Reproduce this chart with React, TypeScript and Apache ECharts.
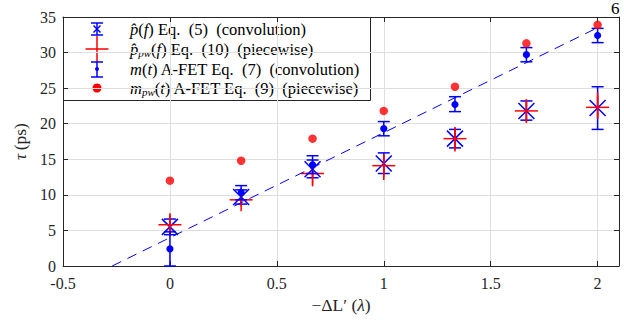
import React, { useEffect, useRef } from 'react';
import * as echarts from 'echarts';

// x positions (−ΔL' in λ)
const xValues = [0, 0.333, 0.667, 1, 1.333, 1.667, 2];

// p̂(f) Eq. (5) (convolution): value, lower, upper
const pHat = [5.5, 9.7, 13.6, 14.4, 17.9, 21.8, 22.2];
const pHatLo = [4.4, 8.7, 12.4, 13.0, 16.6, 20.5, 19.2];
const pHatHi = [6.6, 10.7, 14.9, 15.9, 19.2, 23.2, 25.2];

// p̂_pw(f) Eq. (10) (piecewise)
const pPw = [5.8, 9.3, 13.0, 14.1, 17.9, 21.8, 22.3];
const pPwLo = [4.4, 8.4, 11.2, 12.1, 16.1, 20.1, 20.8];
const pPwHi = [7.2, 10.3, 14.5, 15.6, 19.5, 23.4, 24.4];

// m(t) A-FET Eq. (7) (convolution)
const mT = [2.4, 10.3, 14.2, 19.3, 22.7, 29.7, 32.4];
const mTLo = [0, 9.3, 13.0, 18.3, 21.7, 28.7, 31.4];
const mTHi = [4.8, 11.3, 15.5, 20.3, 23.8, 30.7, 33.4];

// m_pw(t) A-FET Eq. (9) (piecewise)
const mPw = [12.0, 14.8, 17.9, 21.8, 25.2, 31.3, 33.9];

// dashed fit line end points
const fitX = [-0.27, 2];
const fitY = [0, 33.5];

const FONT = 'Liberation Serif';
const BLUE = '#0000ff';
const RED = '#ff0000';
const AX = '#262626';

type Kind = 'x' | 'plus' | 'dot';

const makeRender = (kind: Kind) => (_params: any, api: any) => {
  const xv = api.value(0);
  const c = api.coord([xv, api.value(1)]);
  const lo = api.coord([xv, api.value(2)]);
  const hi = api.coord([xv, api.value(3)]);
  const color = kind === 'plus' ? RED : BLUE;
  const st = { stroke: color, lineWidth: 1.5, fill: null };
  const cx = c[0];
  const children: any[] = [
    { type: 'line', shape: { x1: cx, y1: lo[1], x2: cx, y2: hi[1] }, style: st },
  ];
  if (kind !== 'plus') {
    const w = 6;
    children.push({ type: 'line', shape: { x1: cx - w, y1: lo[1], x2: cx + w, y2: lo[1] }, style: st });
    children.push({ type: 'line', shape: { x1: cx - w, y1: hi[1], x2: cx + w, y2: hi[1] }, style: st });
  }
  if (kind === 'x') {
    const s = 8;
    children.push({ type: 'line', shape: { x1: cx - s, y1: c[1] - s, x2: cx + s, y2: c[1] + s }, style: st });
    children.push({ type: 'line', shape: { x1: cx - s, y1: c[1] + s, x2: cx + s, y2: c[1] - s }, style: st });
  } else if (kind === 'plus') {
    const s = 11.5;
    children.push({ type: 'line', shape: { x1: cx - s, y1: c[1], x2: cx + s, y2: c[1] }, style: st });
    children.push({ type: 'line', shape: { x1: cx, y1: c[1] - s, x2: cx, y2: c[1] + s }, style: st });
  } else {
    children.push({ type: 'circle', shape: { cx, cy: c[1], r: 3.6 }, style: { fill: BLUE } });
  }
  return { type: 'group', children };
};

const rich = {
  n: { fontFamily: FONT, fontSize: 16.5, lineHeight: 19, color: '#000' },
  i: { fontFamily: FONT, fontSize: 16.5, lineHeight: 19, fontStyle: 'italic', color: '#000' },
  s: { fontFamily: FONT, fontSize: 11, lineHeight: 11, fontStyle: 'italic', color: '#000', verticalAlign: 'bottom' },
};

const nameRich = {
  n: { fontFamily: FONT, fontSize: 17.5, lineHeight: 20, color: AX },
  i: { fontFamily: FONT, fontSize: 17.5, lineHeight: 20, fontStyle: 'italic', color: AX },
};

const legendTexts = [
  '{i|p\u0302}{n|(}{i|f}{n|) Eq.  (5)  (convolution)}',
  '{i|p\u0302}{s|pw}{n|(}{i|f}{n|) Eq.  (10)  (piecewise)}',
  '{i|m}{n|(}{i|t}{n|) A-FET Eq.  (7)  (convolution)}',
  '{i|m}{s|pw}{n|(}{i|t}{n|) A-FET Eq.  (9)  (piecewise)}',
];

export default function App() {
  const ref = useRef<HTMLDivElement>(null);
  useEffect(() => {
    document.body.style.margin = '0';
    const chart = echarts.init(ref.current!, null, { renderer: 'svg' });
    const mk = (v: number[], lo: number[], hi: number[]) => xValues.map((x, i) => [x, v[i], lo[i], hi[i]]);
    const rowsY = [29, 49, 69, 88];
    const ix = 97;
    const lst = (c: string) => ({ stroke: c, lineWidth: 1.5, fill: null });
    const legendChildren: any[] = [
      { type: 'rect', shape: { x: 63.5, y: 17.5, width: 307, height: 83 }, style: { fill: '#fff', stroke: AX, lineWidth: 1 } },
      // row 1
      { type: 'line', shape: { x1: ix, y1: 23, x2: ix, y2: 35 }, style: lst(BLUE) },
      { type: 'line', shape: { x1: ix - 6, y1: 23, x2: ix + 6, y2: 23 }, style: lst(BLUE) },
      { type: 'line', shape: { x1: ix - 6, y1: 35, x2: ix + 6, y2: 35 }, style: lst(BLUE) },
      { type: 'line', shape: { x1: ix - 3.5, y1: 25.5, x2: ix + 3.5, y2: 32.5 }, style: lst(BLUE) },
      { type: 'line', shape: { x1: ix - 3.5, y1: 32.5, x2: ix + 3.5, y2: 25.5 }, style: lst(BLUE) },
      // row 2
      { type: 'line', shape: { x1: ix - 11.5, y1: 49, x2: ix + 11.5, y2: 49 }, style: lst(RED) },
      { type: 'line', shape: { x1: ix, y1: 36, x2: ix, y2: 62 }, style: lst(RED) },
      // row 3
      { type: 'line', shape: { x1: ix, y1: 62, x2: ix, y2: 77 }, style: lst(BLUE) },
      { type: 'line', shape: { x1: ix - 6, y1: 62, x2: ix + 6, y2: 62 }, style: lst(BLUE) },
      { type: 'line', shape: { x1: ix - 6, y1: 77, x2: ix + 6, y2: 77 }, style: lst(BLUE) },
      { type: 'circle', shape: { cx: ix, cy: 69, r: 2 }, style: { fill: BLUE } },
      // row 4
      { type: 'circle', shape: { cx: ix, cy: 88, r: 4.5 }, style: { fill: RED } },
    ];
    legendTexts.forEach((t, k) => {
      legendChildren.push({
        type: 'text',
        x: 130,
        y: rowsY[k],
        style: { text: t, rich, verticalAlign: 'middle', align: 'left' },
      });
    });

    const axisCommon = {
      axisLine: { show: true, onZero: false, lineStyle: { color: AX, width: 1 } },
      axisTick: { show: true, inside: true, length: 5, lineStyle: { color: AX, width: 1 } },
    };

    const option: any = {
      animation: false,
      backgroundColor: '#fff',
      grid: { left: 63, right: 5, top: 17, bottom: 55, containLabel: false },
      xAxis: [
        {
          type: 'value', min: -0.5, max: 2.1, interval: 0.5, position: 'bottom',
          ...axisCommon,
          axisLabel: {
            color: AX, fontFamily: FONT, fontSize: 16, margin: 9,
            formatter: (v: number) => (v > 2.05 ? '' : String(v)),
          },
          splitLine: { show: true, lineStyle: { color: '#dedede', width: 1 } },
          name: '{n|\u2212\u0394L\u2032 (}{i|\u03bb}{n|)}',
          nameLocation: 'middle', nameGap: 24,
          nameTextStyle: { rich: nameRich },
        },
        {
          type: 'value', min: -0.5, max: 2.1, interval: 0.5, position: 'top',
          ...axisCommon, axisLabel: { show: false }, splitLine: { show: false },
        },
      ],
      yAxis: [
        {
          type: 'value', min: 0, max: 35, interval: 5, position: 'left',
          ...axisCommon,
          axisLabel: { color: AX, fontFamily: FONT, fontSize: 16, margin: 7 },
          splitLine: { show: true, lineStyle: { color: '#dedede', width: 1 } },
          name: '{i|\u03c4} {n|(ps)}',
          nameLocation: 'middle', nameGap: 32, nameRotate: 90,
          nameTextStyle: { rich: nameRich },
        },
        {
          type: 'value', min: 0, max: 35, interval: 5, position: 'right',
          ...axisCommon, axisLabel: { show: false }, splitLine: { show: false },
        },
      ],
      series: [
        { type: 'custom', name: 'pHat', renderItem: makeRender('x'), data: mk(pHat, pHatLo, pHatHi), encode: { x: 0, y: [1, 2, 3] }, z: 3 },
        { type: 'custom', name: 'pPw', renderItem: makeRender('plus'), data: mk(pPw, pPwLo, pPwHi), encode: { x: 0, y: [1, 2, 3] }, z: 4 },
        { type: 'custom', name: 'mT', renderItem: makeRender('dot'), data: mk(mT, mTLo, mTHi), encode: { x: 0, y: [1, 2, 3] }, z: 5 },
        {
          type: 'scatter', name: 'mPw', symbol: 'circle', symbolSize: 8.5,
          itemStyle: { color: RED }, data: xValues.map((x, i) => [x, mPw[i]]), z: 6,
        },
        {
          type: 'line', name: 'fit', data: fitX.map((x, i) => [x, fitY[i]]), showSymbol: false, symbol: 'none',
          lineStyle: { color: BLUE, width: 1, type: [10, 7] }, z: 7,
        },
      ],
      graphic: [
        { type: 'group', z: 100, children: legendChildren },
        { type: 'text', x: 611, y: 0, z: 100, style: { text: '6', fontFamily: FONT, fontSize: 17, fill: '#000' } },
      ],
    };
    chart.setOption(option);
    return () => chart.dispose();
  }, []);
  return <div ref={ref} style={{ width: 624, height: 321 }} />;
}
